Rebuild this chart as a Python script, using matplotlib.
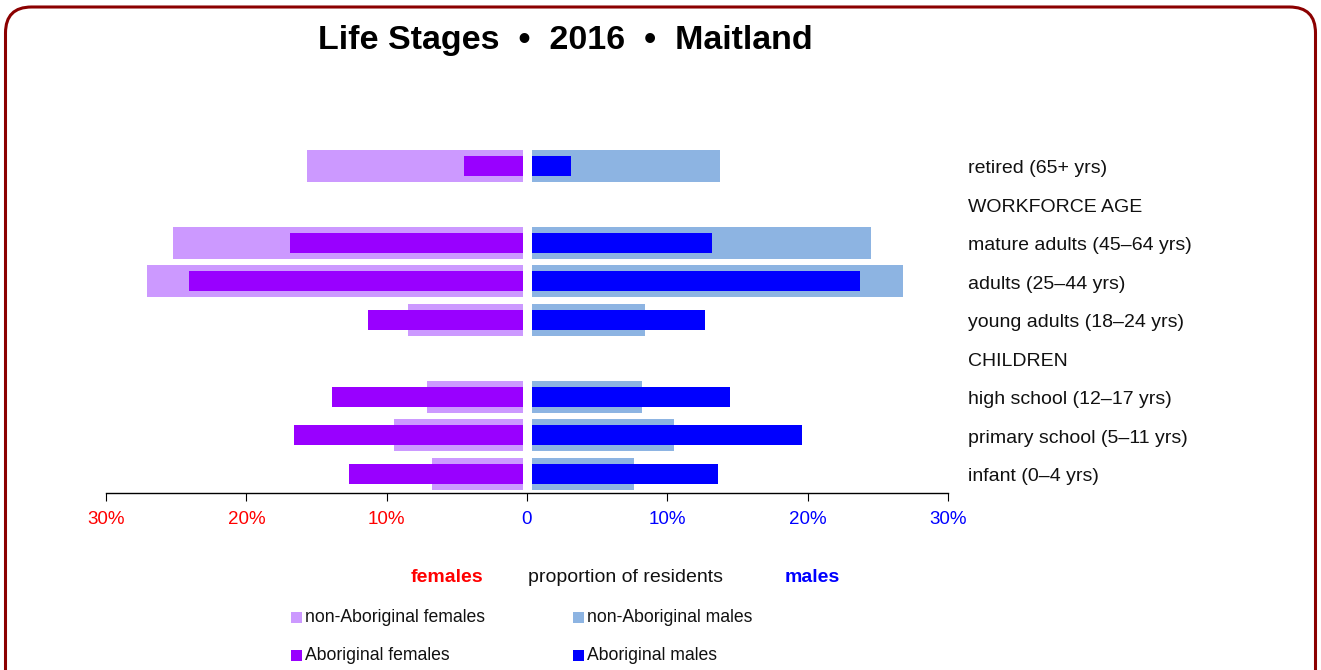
import matplotlib
matplotlib.use("Agg")
import matplotlib.pyplot as plt
import matplotlib.transforms as mtransforms
from matplotlib.patches import FancyBboxPatch, Rectangle

plt.rcParams['font.family'] = ['Liberation Sans', 'DejaVu Sans']

# Data (bottom to top)
categories = ["infant (0\u20134 yrs)", "primary school (5\u201311 yrs)", "high school (12\u201317 yrs)",
              "CHILDREN", "young adults (18\u201324 yrs)", "adults (25\u201344 yrs)",
              "mature adults (45\u201364 yrs)", "WORKFORCE AGE", "retired (65+ yrs)"]
nonab_females = [6.8, 9.5, 7.1, 0, 8.5, 27.1, 25.2, 0, 15.7]
ab_females = [12.7, 16.6, 13.9, 0, 11.35, 24.1, 16.9, 0, 4.5]
nonab_males = [7.6, 10.5, 8.2, 0, 8.4, 26.8, 24.5, 0, 13.75]
ab_males = [13.6, 19.6, 14.5, 0, 12.65, 23.75, 13.2, 0, 3.1]
tick_values = [-30, -20, -10, 0, 10, 20, 30]
tick_labels = ["30%", "20%", "10%", "0", "10%", "20%", "30%"]
tick_colors = ["red", "red", "red", "blue", "blue", "blue", "blue"]

W, H = 1321, 670
fig = plt.figure(figsize=(W / 100, H / 100), dpi=100)

# rounded border (in inches)
border = FancyBboxPatch((0.055, -0.4), 13.10, 7.03,
                        boxstyle="round,pad=0,rounding_size=0.26",
                        transform=fig.dpi_scale_trans, fill=False,
                        edgecolor="#8B0000", linewidth=2.2)
fig.patches.append(border)

ybot = (H - 493) / H
yh = (493 - 146.75) / H
ax = fig.add_axes([106 / W, ybot, (948 - 106) / W, yh])

ypos = list(range(len(categories)))
C_NAF, C_AF, C_NAM, C_AM = "#CC99FF", "#9900FF", "#8DB4E2", "#0000FF"

ax.barh(ypos, [-v for v in nonab_females], height=0.83, color=C_NAF, linewidth=0, zorder=1)
ax.barh(ypos, [-v for v in ab_females], height=0.52, color=C_AF, linewidth=0, zorder=2)
ax.barh(ypos, nonab_males, height=0.83, color=C_NAM, linewidth=0, zorder=1)
ax.barh(ypos, ab_males, height=0.52, color=C_AM, linewidth=0, zorder=2)
# white gap in the middle
ax.axvspan(-0.25, 0.35, color="white", zorder=2.2, linewidth=0)

ax.set_xlim(-30, 30)
ax.set_ylim(-0.5, 8.5)
ax.set_yticks([])
for s in ("top", "right", "left"):
    ax.spines[s].set_visible(False)
ax.spines["bottom"].set_linewidth(1.0)
ax.spines["bottom"].set_zorder(3)
ax.tick_params(axis="x", length=6, width=0.8, labelsize=13.5, pad=7)
ax.patch.set_alpha(0)
ax.set_xticks(tick_values)
ax.set_xticklabels(tick_labels)
for lab, col in zip(ax.get_xticklabels(), tick_colors):
    lab.set_color(col)

lab_tr = mtransforms.blended_transform_factory(fig.transFigure, ax.transData) + \
    mtransforms.ScaledTranslation(0, -3 / 100, fig.dpi_scale_trans)
for y, c in zip(ypos, categories):
    ax.text(968 / W, y, c, transform=lab_tr, ha="left", va="center", fontsize=14, color="#111111")

fig.text(565 / W, 1 - 40 / H, "Life Stages  \u2022  2016  \u2022  Maitland", ha="center", va="center",
         fontsize=24.5, fontweight="bold")

fig.text(447 / W, 1 - 577 / H, "females", ha="center", va="center", fontsize=14, fontweight="bold", color="red")
fig.text(626 / W, 1 - 577 / H, "proportion of residents", ha="center", va="center", fontsize=14, color="#111111")
fig.text(812 / W, 1 - 577 / H, "males", ha="center", va="center", fontsize=14, fontweight="bold", color="blue")

legend_items = [("non-Aboriginal females", C_NAF, 291, 617), ("Aboriginal females", C_AF, 291, 655),
                ("non-Aboriginal males", C_NAM, 573, 617), ("Aboriginal males", C_AM, 573, 655)]
for txt, col, x, y in legend_items:
    fig.patches.append(Rectangle((x / W, 1 - (y + 5.5) / H), 11 / W, 11 / H, transform=fig.transFigure,
                                 facecolor=col, edgecolor="none"))
    fig.text((x + 14) / W, 1 - y / H, txt, ha="left", va="center", fontsize=12.7, color="#111111")

fig.savefig("out.png", dpi=100)
